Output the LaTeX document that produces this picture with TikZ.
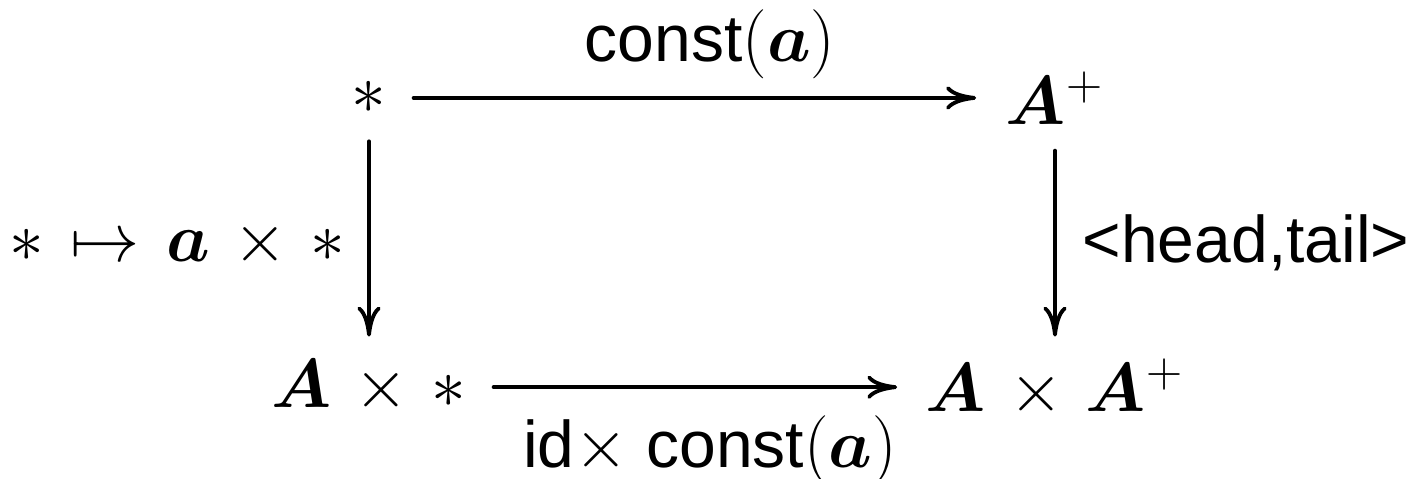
\documentclass[tikz,border=0pt]{standalone}
\usepackage{bm}
\usepackage{fontspec}
\setsansfont{Liberation Sans}
\usetikzlibrary{arrows.meta}
\newcommand\Xtimes{\mathbin{\mskip2mu\times\mskip2mu}}
\newcommand\Xmapsto{\mathrel{\mskip2mu\mapsto\mskip2mu}}
\begin{document}
\begin{tikzpicture}[x=0.3pt,y=-0.3pt,
  every node/.style={inner sep=0pt, font=\fontsize{19.8}{24}\selectfont},
  obj/.style={anchor=base},
  lbl/.style={anchor=base, font=\fontsize{19.8}{24}\selectfont\sffamily},
  arr/.style={line width=1.15pt, line cap=round,
    -{Computer Modern Rightarrow[length=9pt,width=7pt]}}]
\useasboundingbox (0,0) rectangle (1414,479);
\node[obj] (s)  at (369,114)  {$\ast$};
\node[obj] (ap) at (1055,125) {$\bm{A}^+$};
\node[obj] (bl) at (369,408)  {$\bm{A}\Xtimes\ast$};
\node[obj] (br) at (1055,412) {$\bm{A}\Xtimes\bm{A}^+$};
\node[lbl] (ltop)   at (710,62)   {const$(\bm{a})$};
\node[lbl] (lbot)   at (710,468)  {id$\times$ const$(\bm{a})$};
\node[obj] (lleft)  at (177,262)  {$\ast\Xmapsto\bm{a}\Xtimes\ast$};
\node[lbl] (lright) at (1246,263) {<head,tail>};
\draw[arr, shorten <=8pt, shorten >=8.7pt] (s.east) -- (s.east -| ap.west);
\draw[arr, shorten <=8pt, shorten >=8.4pt] (bl.east) -- (bl.east -| br.west);
\draw[arr, shorten <=8pt, shorten >=7pt] (s.south) -- (s.south |- bl.north);
\draw[arr, shorten <=7.5pt, shorten >=6.6pt] (ap.south) -- (ap.south |- br.north);
\end{tikzpicture}
\end{document}
